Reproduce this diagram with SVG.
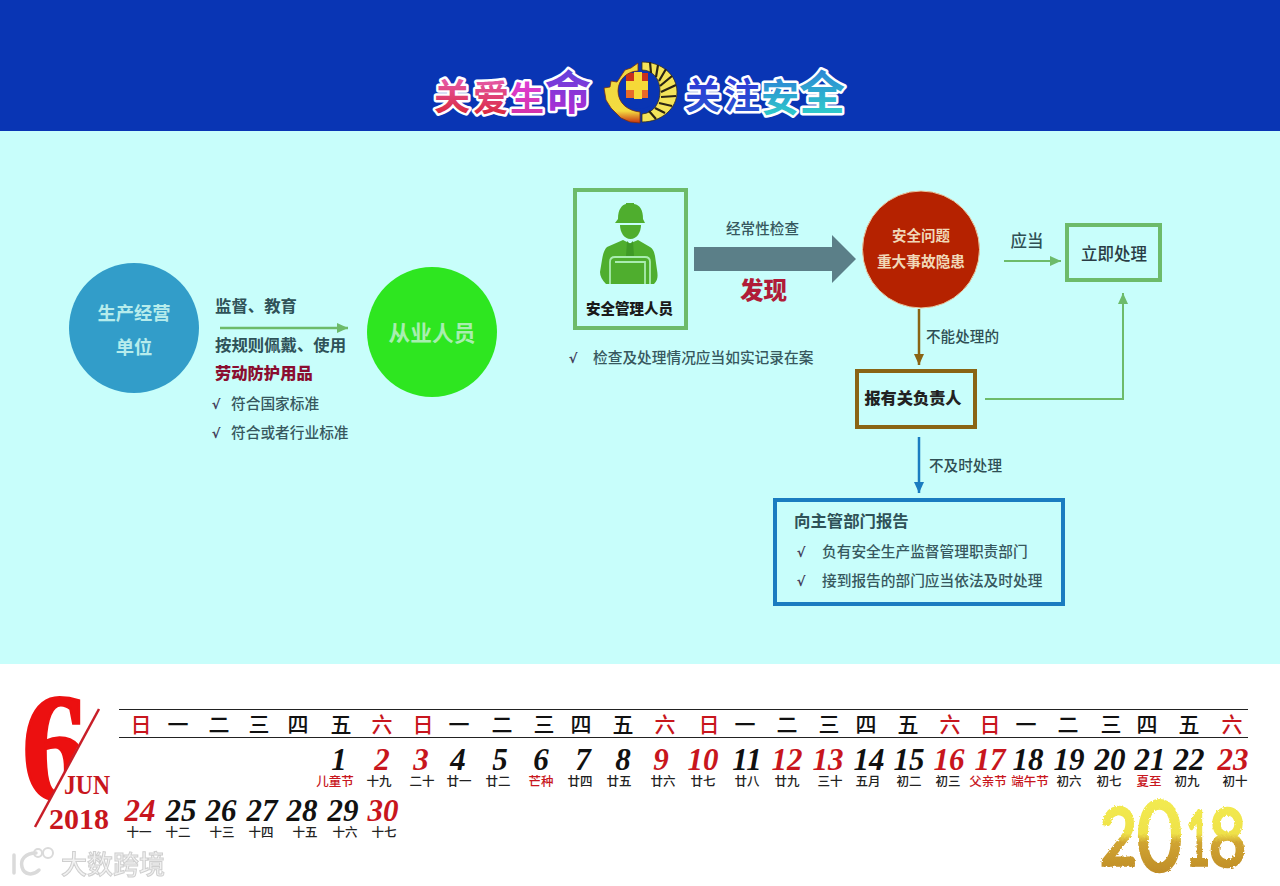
<svg xmlns="http://www.w3.org/2000/svg" width="1280" height="886" viewBox="0 0 1280 886">
<style>
text{font-family:"Noto Sans CJK SC","Liberation Sans",sans-serif;text-anchor:middle}
.l{text-anchor:start}
.dk{fill:#37585e;font-size:14.700px;font-weight:500}
.md{fill:#2f5258;font-size:16.400px;font-weight:700}
.tick{fill:#44405a;font-size:13px;font-weight:700;font-family:"DejaVu Sans",sans-serif}
.wk{font-size:21px;fill:#111;font-family:"Noto Sans CJK SC",sans-serif;font-weight:500}
.num{font-family:"Liberation Serif",serif;font-style:italic;font-weight:700;font-size:31px;fill:#111}
.lu{font-size:12.500px;fill:#222;font-weight:500}
.r{fill:#c8161d}
.title{font-family:"Noto Sans CJK SC",sans-serif;font-weight:700;stroke:#fff;stroke-width:5px;paint-order:stroke;stroke-linejoin:round}
.ser{font-family:"Liberation Serif",serif;font-weight:700}
.gold{font-family:"Lato",sans-serif;font-weight:400;fill:url(#gold);stroke:url(#gold);stroke-width:3.500px}
</style>
<defs>
<linearGradient id="t1" x1="0" y1="0" x2="0" y2="1"><stop offset="0" stop-color="#e868c8"/><stop offset="1" stop-color="#d8202c"/></linearGradient>
<linearGradient id="t2" x1="0" y1="0" x2="0" y2="1"><stop offset="0" stop-color="#e040e0"/><stop offset="1" stop-color="#d030a0"/></linearGradient>
<linearGradient id="t3" x1="0" y1="0" x2="0" y2="1"><stop offset="0" stop-color="#4848e0"/><stop offset="1" stop-color="#c028d0"/></linearGradient>
<linearGradient id="t4" x1="0" y1="0" x2="0" y2="1"><stop offset="0" stop-color="#3030d8"/><stop offset="1" stop-color="#2858d0"/></linearGradient>
<linearGradient id="t5" x1="0" y1="0" x2="0" y2="1"><stop offset="0" stop-color="#2a70d8"/><stop offset="1" stop-color="#30d8c8"/></linearGradient>
<linearGradient id="gold" gradientUnits="userSpaceOnUse" x1="0" y1="802" x2="0" y2="872"><stop offset="0" stop-color="#f2ea50"/><stop offset=".45" stop-color="#efe24a"/><stop offset=".58" stop-color="#d0a432"/><stop offset="1" stop-color="#c08e28"/></linearGradient>
<linearGradient id="gy" x1="0" y1="0" x2="0" y2="1"><stop offset="0" stop-color="#f0d840"/><stop offset=".8" stop-color="#f4dc40"/><stop offset="1" stop-color="#c83010"/></linearGradient>
<filter id="rough" x="-10%" y="-10%" width="120%" height="120%"><feTurbulence type="fractalNoise" baseFrequency=".5" numOctaves="2" seed="3"/><feDisplacementMap in="SourceGraphic" scale="3"/></filter>
<filter id="soft" x="-5%" y="-5%" width="110%" height="110%"><feGaussianBlur stdDeviation=".5"/></filter>
<clipPath id="six"><path d="M0 680H112L36 827H0Z"/></clipPath>
<marker id="mg" markerUnits="userSpaceOnUse" markerWidth="12" markerHeight="12" refX="11" refY="6" orient="auto"><path d="M0 1L11 6L0 11Z" fill="#6dbb6a"/></marker>
<marker id="mb" markerUnits="userSpaceOnUse" markerWidth="12" markerHeight="12" refX="11" refY="6" orient="auto"><path d="M0 1L11 6L0 11Z" fill="#8a6414"/></marker>
<marker id="mu" markerUnits="userSpaceOnUse" markerWidth="12" markerHeight="12" refX="11" refY="6" orient="auto"><path d="M0 1L11 6L0 11Z" fill="#1a7cc0"/></marker>
</defs>
<rect width="1280" height="886" fill="#fff"/>
<rect width="1280" height="131" fill="#0935b4"/>
<rect y="131" width="1280" height="533" fill="#c8fefb"/>

<g id="banner">
<text class="title" x="452" y="110" font-size="36" fill="url(#t1)">关</text>
<text class="title" x="491" y="111" font-size="36" fill="url(#t1)">爱</text>
<text class="title" x="527" y="111" font-size="34" fill="url(#t2)">生</text>
<text class="title" x="568" y="109" font-size="46" fill="url(#t3)">命</text>
<text class="title" x="703" y="109" font-size="36" fill="url(#t4)">关</text>
<text class="title" x="742" y="109" font-size="36" fill="url(#t4)">注</text>
<text class="title" x="780" y="111" font-size="38" fill="url(#t5)">安</text>
<text class="title" x="822" y="109" font-size="46" fill="url(#t5)">全</text>
</g>
<g id="emblem">
<circle cx="639" cy="88" r="21" fill="#0935b4"/>
<path d="M626 73H648V98H626Z" fill="#c8301c"/>
<path d="M626 90H648V98H626Z" fill="#e86a28"/>
<path d="M634 72H642V81H648V90H642V99H634V90H626V81H634Z" fill="#f6d838"/>
<path d="M604 88l6-1 1-6 6 1 4-6 4-6 6-2 7-5V71C628 71 618 79 618 91C618 103 628 111 640 112V123L630 122 621 118 611 108 606 100Z" fill="url(#gy)" stroke="#7a3010" stroke-width=".8"/>
<path d="M642 62C662 62 677 75 677 92C677 108 662 122 642 122V114C654 113 660 103 660 91C660 79 653 70 642 70Z" fill="#f4e45a" stroke="#3a3018" stroke-width=".8"/>
<path d="M650 62L651 73M658 65L656 77M666 69L659 81M672 76L660 86M676 85L661 92M676 96L661 97M672 106L659 103M665 113L655 108M656 119L649 111" stroke="#2a2414" stroke-width="2.200" fill="none"/>
</g>

<g id="connectors" fill="none">
<path d="M220 328H348" stroke="#6dbb6a" stroke-width="2.500" marker-end="url(#mg)"/>
<path d="M694 247H832V235L856 259L832 283V271H694Z" fill="#5b7f88"/>
<path d="M1004 261H1061" stroke="#6dbb6a" stroke-width="2" marker-end="url(#mg)"/>
<path d="M919 309V365" stroke="#8a6414" stroke-width="2.500" marker-end="url(#mb)"/>
<path d="M985 399H1123V293" stroke="#6dbb6a" stroke-width="2" marker-end="url(#mg)"/>
<path d="M919 437V493" stroke="#1a7cc0" stroke-width="2.500" marker-end="url(#mu)"/>
</g>

<g id="n-unit"><circle cx="134" cy="328" r="65" fill="#329dc9"/>
<text x="134" y="320" font-size="18.300" font-weight="700" fill="#b6ecec">生产经营</text>
<text x="134" y="354" font-size="18.300" font-weight="700" fill="#b6ecec">单位</text></g>
<g id="n-staff"><circle cx="432" cy="332" r="65" fill="#2ee620"/>
<text x="432" y="341" font-size="21.700" font-weight="700" fill="#a8eeb0">从业人员</text></g>
<g id="lbl-left">
<text class="l md" x="215" y="312">监督、教育</text>
<text class="l md" x="215" y="351">按规则佩戴、使用</text>
<text class="l" x="215" y="379" font-size="16.300" font-weight="900" fill="#8a0e30">劳动防护用品</text>
<text class="tick" x="216" y="409">√</text><text class="l dk" x="231" y="409">符合国家标准</text>
<text class="tick" x="216" y="438">√</text><text class="l dk" x="231" y="438">符合或者行业标准</text>
</g>

<g id="n-manager">
<rect x="575" y="190" width="111" height="138" fill="none" stroke="#6dbb6a" stroke-width="4"/>
<path d="M618 219C618 209 622 205 626 204V203H634V204C640 205 643 210 643 219L645 223H615Z" fill="#4fae2e"/>
<path d="M620 225H641C641 232 637 239 630.500 239C624 239 620 232 620 225Z" fill="#4fae2e"/>
<path d="M623 240L607 247C604 250 603 254 602 260L600 272C600 276 602 280 606 284H654C658 280 658 276 657 270L655 256C654 251 653 249 650 247L638 240L631 243H629Z" fill="#4fae2e"/>
<path d="M610 284V262C610 258 612 257 615 257H645C648 257 650 258 650 262V284M615 262H645V284" fill="none" stroke="#a9ecb0" stroke-width="1.800"/>
<path d="M627 241L630 244L633 241L634 256H626Z" fill="#3f9a26"/>
<text x="629.500" y="314" font-size="14.500" font-weight="900" fill="#1a1a1a">安全管理人员</text>
</g>
<g id="lbl-check">
<text x="762.500" y="234" font-size="14.600" font-weight="500" fill="#37585e">经常性检查</text>
<text x="763.500" y="299" font-size="23.500" font-weight="900" fill="#b01c38">发现</text>
<text class="tick" x="573" y="363">√</text>
<text class="l dk" x="593" y="363">检查及处理情况应当如实记录在案</text>
</g>
<g id="n-issue"><circle cx="921" cy="249.500" r="58.500" fill="#b52200" stroke="#e8c8a0" stroke-width="1"/>
<text x="921" y="241" font-size="14.500" font-weight="700" fill="#f0d8b8">安全问题</text>
<text x="921" y="267" font-size="14.700" font-weight="700" fill="#f0d8b8">重大事故隐患</text></g>
<text id="lbl-should" x="1027" y="247" font-size="16.500" font-weight="500" fill="#2f4f54">应当</text>
<g id="n-handle"><rect x="1067" y="225" width="93" height="55" fill="none" stroke="#6dbb6a" stroke-width="4"/>
<text x="1114" y="260" font-size="16.500" font-weight="500" fill="#2a3c44">立即处理</text></g>
<text id="lbl-cannot" x="962.500" y="342" font-size="14.600" font-weight="500" fill="#2f4f54">不能处理的</text>
<g id="n-head"><rect x="857" y="371" width="118" height="56" fill="none" stroke="#8a6414" stroke-width="4"/>
<text x="913" y="404" font-size="16.200" font-weight="900" fill="#222">报有关负责人</text></g>
<text id="lbl-late" x="965.500" y="471" font-size="14.600" font-weight="500" fill="#2f4f54">不及时处理</text>
<g id="n-report"><rect x="775" y="500" width="288" height="104" fill="none" stroke="#1a7cc0" stroke-width="4"/>
<text class="l md" x="794" y="527">向主管部门报告</text>
<text class="tick" x="801" y="557">√</text><text class="l dk" x="822" y="557">负有安全生产监督管理职责部门</text>
<text class="tick" x="801" y="586">√</text><text class="l dk" x="822" y="586">接到报告的部门应当依法及时处理</text></g>

<g id="calendar-date">
<text class="ser l" x="22" y="799" font-size="152" fill="#ec1010" stroke="#ec1010" stroke-width="3" clip-path="url(#six)" textLength="66" lengthAdjust="spacingAndGlyphs">6</text>
<path d="M99 709L35 827" stroke="#c81e28" stroke-width="2.500"/>
<text class="ser" x="87" y="794" font-size="27" fill="#c8161d" textLength="46" lengthAdjust="spacingAndGlyphs">JUN</text>
<text class="ser" x="79" y="829" font-size="30" fill="#c8161d">2018</text>
</g>
<g id="calendar-head" stroke="none">
<path d="M119 709.500H1248M119 737.500H1248" stroke="#222" stroke-width="1"/>
<text class="wk r" x="141" y="732">日</text><text class="wk" x="178" y="732">一</text><text class="wk" x="219" y="732">二</text><text class="wk" x="259" y="732">三</text><text class="wk" x="298" y="732">四</text><text class="wk" x="341" y="732">五</text><text class="wk r" x="382" y="732">六</text>
<text class="wk r" x="423" y="732">日</text><text class="wk" x="459" y="732">一</text><text class="wk" x="502" y="732">二</text><text class="wk" x="544" y="732">三</text><text class="wk" x="581" y="732">四</text><text class="wk" x="623" y="732">五</text><text class="wk r" x="665" y="732">六</text>
<text class="wk r" x="709" y="732">日</text><text class="wk" x="745" y="732">一</text><text class="wk" x="787" y="732">二</text><text class="wk" x="829" y="732">三</text><text class="wk" x="866" y="732">四</text><text class="wk" x="908" y="732">五</text><text class="wk r" x="950" y="732">六</text>
<text class="wk r" x="990" y="732">日</text><text class="wk" x="1026" y="732">一</text><text class="wk" x="1068" y="732">二</text><text class="wk" x="1111" y="732">三</text><text class="wk" x="1147" y="732">四</text><text class="wk" x="1189" y="732">五</text><text class="wk r" x="1232" y="732">六</text>
</g>
<g id="calendar-days">
<text class="num" x="339" y="770">1</text><text class="num r" x="382" y="770">2</text><text class="num r" x="421" y="770">3</text><text class="num" x="458" y="770">4</text><text class="num" x="500" y="770">5</text><text class="num" x="541" y="770">6</text><text class="num" x="583" y="770">7</text><text class="num" x="623" y="770">8</text><text class="num r" x="661" y="770">9</text><text class="num r" x="703" y="770">10</text><text class="num" x="747" y="770">11</text><text class="num r" x="787" y="770">12</text><text class="num r" x="828" y="770">13</text><text class="num" x="869" y="770">14</text><text class="num" x="909" y="770">15</text><text class="num r" x="949" y="770">16</text><text class="num r" x="990" y="770">17</text><text class="num" x="1028" y="770">18</text><text class="num" x="1069" y="770">19</text><text class="num" x="1110" y="770">20</text><text class="num" x="1150" y="770">21</text><text class="num" x="1189" y="770">22</text><text class="num r" x="1233" y="770">23</text>
<text class="num r" x="140" y="821">24</text><text class="num" x="181" y="821">25</text><text class="num" x="221" y="821">26</text><text class="num" x="262" y="821">27</text><text class="num" x="302" y="821">28</text><text class="num" x="343" y="821">29</text><text class="num r" x="383" y="821">30</text>
<text class="lu r" x="335" y="786">儿童节</text><text class="lu" x="379" y="786">十九</text><text class="lu" x="422" y="786">二十</text><text class="lu" x="459" y="786">廿一</text><text class="lu" x="498" y="786">廿二</text><text class="lu r" x="541" y="786">芒种</text><text class="lu" x="580" y="786">廿四</text><text class="lu" x="619" y="786">廿五</text><text class="lu" x="663" y="786">廿六</text><text class="lu" x="703" y="786">廿七</text><text class="lu" x="747" y="786">廿八</text><text class="lu" x="787" y="786">廿九</text><text class="lu" x="830" y="786">三十</text><text class="lu" x="868" y="786">五月</text><text class="lu" x="909" y="786">初二</text><text class="lu" x="948" y="786">初三</text><text class="lu r" x="988" y="786">父亲节</text><text class="lu r" x="1030" y="786">端午节</text><text class="lu" x="1069" y="786">初六</text><text class="lu" x="1109" y="786">初七</text><text class="lu r" x="1149" y="786">夏至</text><text class="lu" x="1187" y="786">初九</text><text class="lu" x="1235" y="786">初十</text>
<text class="lu" x="139" y="837">十一</text><text class="lu" x="178" y="837">十二</text><text class="lu" x="222" y="837">十三</text><text class="lu" x="261" y="837">十四</text><text class="lu" x="305" y="837">十五</text><text class="lu" x="345" y="837">十六</text><text class="lu" x="384" y="837">十七</text>
</g>
<g id="gold-year" filter="url(#rough)">
<text class="gold l" x="1100" y="865" font-size="79" textLength="37" lengthAdjust="spacingAndGlyphs">2</text>
<text class="gold l" x="1137" y="871" font-size="96" textLength="45" lengthAdjust="spacingAndGlyphs">0</text>
<text class="gold l" x="1186" y="865" font-size="76" textLength="24" lengthAdjust="spacingAndGlyphs">1</text>
<text class="gold l" x="1209" y="866" font-size="80" textLength="37" lengthAdjust="spacingAndGlyphs">8</text>
</g>
<g id="watermark" filter="url(#soft)">
<path d="M14 855V873M36 853C25 853 20 860 22 867C24 875 33 876 39 870" fill="none" stroke="#dadada" stroke-width="3.500" stroke-linecap="round"/>
<circle cx="38" cy="853" r="4" fill="none" stroke="#dadada" stroke-width="2"/><circle cx="48" cy="853" r="5" fill="none" stroke="#dadada" stroke-width="2"/>
<text x="113" y="874" font-size="26" font-weight="500" fill="#f2f2f2" stroke="#cfcfcf" stroke-width="1" textLength="104" lengthAdjust="spacingAndGlyphs">大数跨境</text>
</g>
</svg>
